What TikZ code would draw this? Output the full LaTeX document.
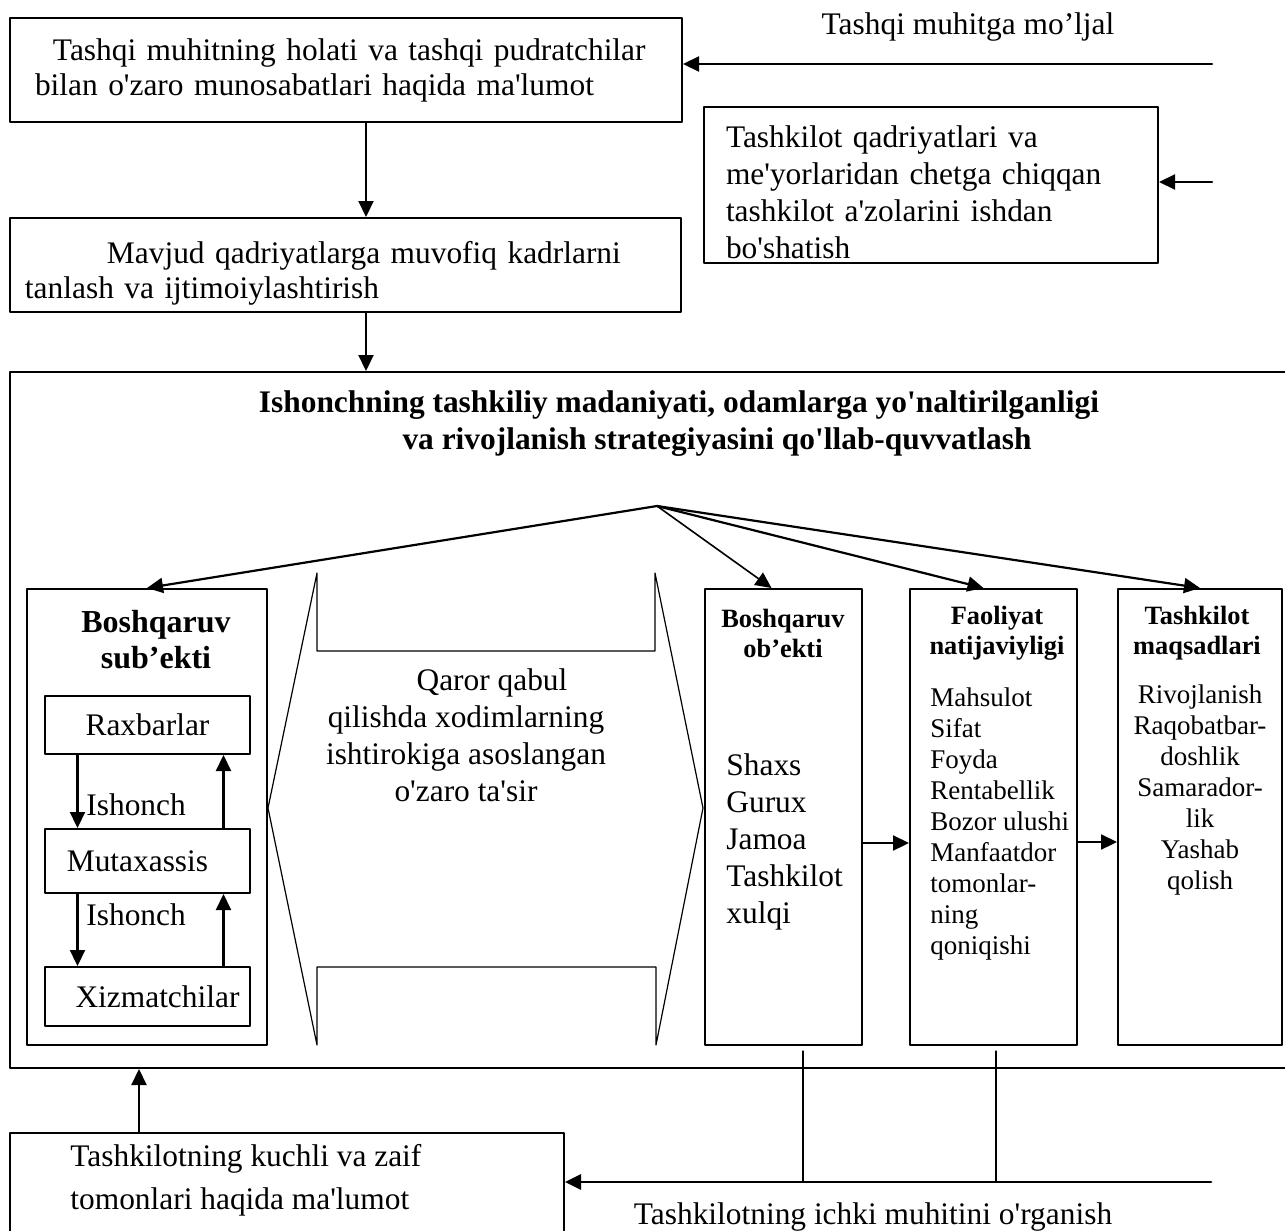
\documentclass[tikz,border=0pt]{standalone}
\usepackage{fontspec}
\setmainfont{Liberation Serif}[Ligatures=TeXOff]
\usetikzlibrary{arrows.meta}
\tikzset{
    txt/.style={
        font=\fontsize{15.7}{17.5}\selectfont, inner sep=0pt
    }
}

\begin{document}
\begin{tikzpicture}[x=0.5pt,y=0.5pt, line cap=round, line join=round]

% box + arrow styles
\tikzset{
  box/.style={draw=black, line width=1pt, inner sep=0pt},
  arr/.style={draw=black, line width=1.1pt, -{Triangle[length=8pt,width=7.5pt]}},
  thinln/.style={draw=black, line width=0.6pt},
  hd/.style={font=\bfseries\fontsize{13.2}{15}\selectfont, inner sep=0pt, align=center},
  item/.style={font=\fontsize{13.5}{15.5}\selectfont, inner sep=0pt},
}

  \useasboundingbox (0,0) rectangle (1285,-1231);

  % top boxes
  \node[box, txt, align=left, text width=311pt, inner xsep=12.5pt, minimum height=52pt] (extinfo) at (346,-70)
    {\hspace*{9pt}Tashqi muhitning holati va tashqi pudratchilar\\bilan o'zaro munosabatlari haqida ma'lumot};
  \node[box, txt, align=left, text width=320.5pt, inner xsep=7.5pt, minimum height=47pt] (select) at (345.5,-265)
    {\rule{0pt}{19pt}\hspace*{41pt}Mavjud qadriyatlarga muvofiq kadrlarni\\tanlash va ijtimoiylashtirish};
  \node[box, txt, font=\fontsize{15.7}{18.5}\selectfont, align=left, text width=205pt, inner xsep=11pt, minimum height=78pt] (values) at (931,-185)
    {\rule{0pt}{18pt}Tashkilot qadriyatlari va\\me'yorlaridan chetga chiqqan\\tashkilot a'zolarini ishdan\\bo'shatish};
  \node[txt] (extlbl) at (968,-27) {Tashqi muhitga mo’ljal};

  % big box
  \node[box, minimum width=640pt, minimum height=348pt] (culture) at (650,-720) {};
  \node[txt, font=\bfseries\fontsize{15.7}{18.5}\selectfont, align=center] (title) at (679,-424)
    {Ishonchning tashkiliy madaniyati, odamlarga yo'naltirilganligi\\\hspace*{38pt}va rivojlanish strategiyasini qo'llab-quvvatlash};
  \coordinate (hub) at (657,-506);

  % inner columns
  \node[box, minimum width=120pt, minimum height=228pt] (subj) at (147,-817) {};
  \node[box, minimum width=78.5pt, minimum height=228pt] (obj) at (783.5,-817) {};
  \node[box, minimum width=83.5pt, minimum height=228pt] (res) at (993.5,-817) {};
  \node[box, minimum width=82pt, minimum height=228pt] (goal) at (1200,-817) {};

  \node[txt, font=\bfseries\fontsize{16}{18}\selectfont, align=center] (subjT) at (156,-640) {Boshqaruv\\sub’ekti};
  \node[hd] (objT) at (783,-633) {Boshqaruv\\ob’ekti};
  \node[hd] (resT) at (997,-633) {Faoliyat\\natijaviyligi};
  \node[hd] (goalT) at (1197,-633) {Tashkilot\\maqsadlari};

  \node[txt, font=\fontsize{15.7}{18.5}\selectfont, align=left, anchor=west] (objI) at (726,-842)
    {Shaxs\\Gurux\\Jamoa\\Tashkilot\\xulqi};
  \node[item, align=left, anchor=west] (resI) at (930,-824)
    {Mahsulot\\Sifat\\Foyda\\Rentabellik\\Bozor ulushi\\Manfaatdor\\tomonlar-\\ning\\qoniqishi};
  \node[item, align=center] (goalI) at (1200,-790)
    {Rivojlanish\\Raqobatbar-\\doshlik\\Samarador-\\lik\\Yashab\\qolish};

  % subject levels
  \node[box, txt, minimum width=102.5pt, minimum height=29pt] (rax) at (147.5,-725) {Raxbarlar};
  \node[box, txt, minimum width=102.5pt, minimum height=32pt] (mut) at (147.5,-861) {Mutaxassis\hspace*{10pt}};
  \node[box, txt, minimum width=102.5pt, minimum height=29.5pt] (xiz) at (147.5,-996.5) {\hspace*{10pt}Xizmatchilar};
  \node[txt, anchor=west] (trustA) at (86,-805) {Ishonch};
  \node[txt, anchor=west] (trustB) at (86,-915) {Ishonch};

  % double arrow shape
  \draw[thinln] (268,-808) -- (317,-573) -- (317,-651) -- (655,-651) -- (655,-573) -- (703,-808)
    -- (656,-1045) -- (656,-967) -- (317,-967) -- (317,-1045) -- cycle;
  \node[txt, font=\fontsize{15.7}{18.5}\selectfont, align=center] (deal) at (466,-735)
    {\hspace*{26pt}Qaror qabul\\qilishda xodimlarning\\ishtirokiga asoslangan\\o'zaro ta'sir};

  % bottom
  \node[box, minimum width=277pt, minimum height=63.5pt] (weak) at (287,-1196.5) {};
  \node[txt, font=\fontsize{15.7}{21.5}\selectfont, align=left, anchor=west] (weakT) at (70,-1180)
    {Tashkilotning kuchli va zaif\\tomonlari haqida ma'lumot};
  \node[txt] (intlbl) at (873,-1217) {Tashkilotning ichki muhitini o'rganish};
  \coordinate (extsrc) at (1212,-64);
  \coordinate (valsrc) at (1212,-182);
  \coordinate (intsrc) at (1211,-1182);

  % arrows
  \draw[arr] (extsrc) -- (extsrc -| extinfo.east);
  \draw[arr] (valsrc) -- (valsrc -| values.east);
  \draw[arr] ([xshift=10pt]extinfo.south) -- ([xshift=10pt]extinfo.south |- select.north);
  \draw[arr] ([xshift=10pt]extinfo.south |- select.south) -- ([xshift=10pt]extinfo.south |- culture.north);

  \draw[arr] (hub) -- (subj.north);
  \draw[arr, line width=0.8pt] (hub) -- ([xshift=-6pt]obj.north);
  \draw[arr] (hub) -- ([xshift=-5pt]res.north);
  \draw[arr] (hub) -- (goal.north);

  \draw[arr] ([xshift=-35pt]rax.south) -- ([xshift=-35pt]mut.north);
  \draw[arr] ([xshift=38pt]mut.north) -- ([xshift=38pt]rax.south);
  \draw[arr] ([xshift=-35pt]mut.south) -- ([xshift=-35pt]xiz.north);
  \draw[arr] ([xshift=38pt]xiz.north) -- ([xshift=38pt]mut.south);

  \draw[arr] ([yshift=-13pt]obj.east) -- ([yshift=-13pt]res.west);
  \draw[arr] ([yshift=-12.5pt]res.east) -- ([yshift=-12.5pt]goal.west);

  \draw[arr] ([xshift=-74pt]weak.north) -- ([xshift=-74pt]weak.north |- culture.south);
  \draw[arr, line width=1.4pt] (intsrc) -- (intsrc -| weak.east);
  \draw[thinln] ([xshift=9.75pt,yshift=-2.5pt]obj.south) -- ([xshift=9.75pt]obj.south |- intsrc);
  \draw[thinln] ([xshift=1.25pt,yshift=-2.5pt]res.south) -- ([xshift=1.25pt]res.south |- intsrc);

\end{tikzpicture}
\end{document}
